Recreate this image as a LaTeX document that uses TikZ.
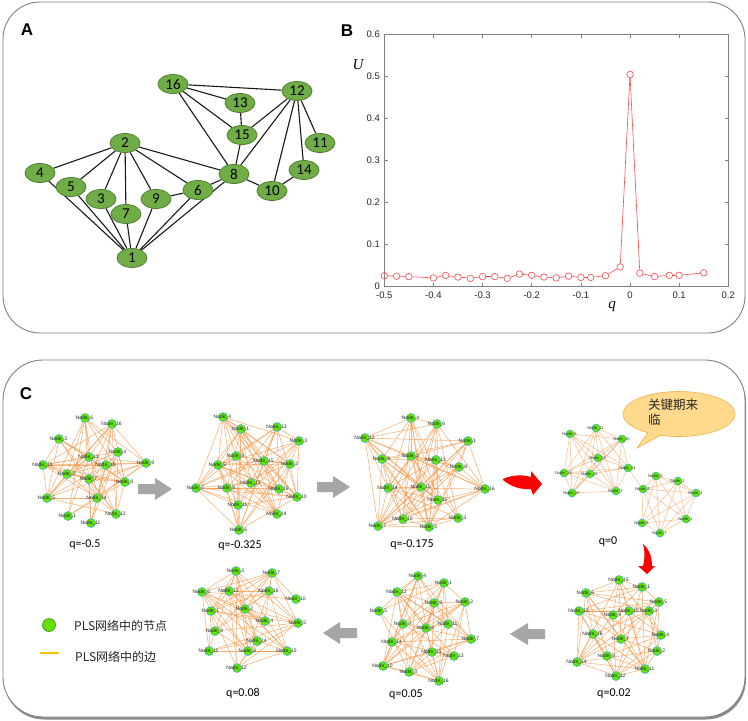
\documentclass[tikz,border=0pt]{standalone}
\usepackage{fontspec}
\setmainfont{Carlito}
\newfontfamily\arialf{Liberation Sans}
\newfontfamily\timesf{Liberation Serif}
\newfontfamily\cjk{Noto Sans CJK SC}
\usetikzlibrary{shapes.geometric,shapes.callouts}
\pgfdeclarelayer{bgzero}
\pgfdeclarelayer{background}
\pgfsetlayers{bgzero,background,main}
\definecolor{panelgray}{RGB}{128,128,128}
\definecolor{agreen}{RGB}{112,173,71}
\definecolor{agreenb}{RGB}{80,126,50}
\definecolor{pgreen}{RGB}{96,232,0}
\definecolor{pcyan}{RGB}{60,170,210}
\definecolor{eorange}{RGB}{247,145,60}
\definecolor{axgray}{RGB}{128,128,128}
\definecolor{ticktext}{RGB}{38,38,38}
\definecolor{plotred}{RGB}{255,70,70}
\definecolor{arrgray}{RGB}{166,166,166}
\definecolor{callfill}{RGB}{255,217,140}
\definecolor{callborder}{RGB}{240,180,70}
\definecolor{legline}{RGB}{255,192,0}
\definecolor{leggreen}{RGB}{102,224,0}
\definecolor{leggreenb}{RGB}{50,140,30}
\tikzset{
  anode/.style={ellipse, draw=agreenb, fill=agreen, line width=0.8pt, minimum width=30pt, minimum height=19pt, inner sep=0pt, font=\fontsize{15}{15}\selectfont},
  aedge/.style={line width=1.1pt, black!90},
  pnode/.style={circle, draw=pcyan, fill=pgreen, line width=0.5pt, minimum size=9pt, inner sep=0pt},
  plab/.style={font=\arialf\fontsize{5}{5}\selectfont, inner sep=0pt, text=black!85},
  pedge/.style={draw=eorange, line width=0.55pt, opacity=0.7},
  mk/.style={circle, draw=plotred, line width=0.6pt, minimum size=6.6pt, inner sep=0pt},
  plotline/.style={draw=plotred, line width=0.6pt},
  axis/.style={draw=axgray, line width=0.6pt},
  ticklab/.style={font=\arialf\fontsize{9.5}{10}\selectfont, text=ticktext, inner sep=1pt},
  panlab/.style={font=\arialf\bfseries\fontsize{17}{17}\selectfont, inner sep=0pt},
  qlab/.style={font=\fontsize{12}{12}\selectfont, inner sep=0pt},
  grayarrow/.style={fill=arrgray},
  redarrow/.style={fill=red},
}
% #1 network id, #2 list id/x/y, #3 seed, #4 threshold (of 97)
\newcommand\drawnet[4]{%
  \foreach \id/\x/\y in {#2} {\node[pnode] (n#1-\id) at (\x,\y) {};}
  \foreach \id/\x/\y in {#2} {\node[plab] (l#1-\id) at (\x-0.5,\y) {Node\_\id};}
  \begin{pgfonlayer}{background}
  \foreach \a/\xa/\ya [count=\i] in {#2} {
    \foreach \b/\xb/\yb [count=\j] in {#2} {
      \ifnum\j>\i
        \pgfmathtruncatemacro\r{mod(\i*37+\j*53+\i*\j*17+\i*\i*\j+#3,97)}
        \ifnum\r<#4 \draw[pedge] (n#1-\a) -- (n#1-\b);\fi
      \fi
    }
  }
  \end{pgfonlayer}
}
\begin{document}
\begin{tikzpicture}[x=1pt,y=-1pt]
\useasboundingbox (0,0) rectangle (748,721);
% panels
\begin{pgfonlayer}{bgzero}
\draw[panelgray, line width=0.9pt, rounded corners=37pt] (3,2) rectangle (745,333);
\fill[black!45, rounded corners=40pt] (4,362.5) rectangle (746,719.5);
\draw[panelgray, fill=white, line width=0.9pt, rounded corners=40pt] (3,360) rectangle (745,717);
\end{pgfonlayer}
\node[panlab] (labA) at (27,30) {A};
\node[panlab] (labB) at (347,31) {B};
\node[panlab] (labC) at (26,394) {C};
% ---------- Panel A ----------
\foreach \n/\x/\y in {16/173/84, 13/240/103, 12/297/91, 15/242/135, 11/320/143, 2/125/143, 4/40/173, 5/71/187, 3/101/199, 7/126/214, 9/156/199, 6/198/190, 8/234/174, 10/272/191, 14/304/170, 1/132/258}
  \node[anode] (a\n) at (\x,\y) {\n};
\begin{pgfonlayer}{background}
\foreach \u/\v in {16/12,16/13,16/15,16/8,13/15,15/12,15/8,12/8,12/10,12/14,12/11,14/10,8/10,2/4,2/5,2/3,2/7,2/9,2/6,2/8,4/1,5/1,3/1,7/1,9/1,9/6,6/8,6/1,8/1}
  \draw[aedge] (a\u) -- (a\v);
\end{pgfonlayer}
% ---------- Panel B ----------
\draw[axis] (384.3,34) rectangle (728.3,286.7);
\foreach \q [count=\k] in {-0.5,-0.4,-0.3,-0.2,-0.1,0,0.1,0.2} {
  \draw[axis] ({630+\q*491.43},286.7) -- ++(0,-3.5);
  \draw[axis] ({630+\q*491.43},34) -- ++(0,3.5);
  \node[ticklab, anchor=north] (xt\k) at ({630+\q*491.43},290.5) {\q};
}
\foreach \u [count=\k] in {0,0.1,0.2,0.3,0.4,0.5,0.6} {
  \draw[axis] (384.3,{286.7-\u*421.17}) -- ++(3.5,0);
  \draw[axis] (728.3,{286.7-\u*421.17}) -- ++(-3.5,0);
  \node[ticklab, anchor=east] (yt\k) at (381,{286.7-\u*421.17}) {\u};
}
\node[font=\timesf\itshape\fontsize{15}{15}\selectfont, inner sep=0pt] (ylab) at (358,65) {U};
\node[font=\timesf\itshape\fontsize{15}{15}\selectfont, inner sep=0pt] (xlab) at (612,307) {q};
\foreach \q/\u [count=\k] in {-0.5/0.026,-0.475/0.025,-0.45/0.024,-0.4/0.021,-0.375/0.027,-0.35/0.023,-0.325/0.020,-0.3/0.024,-0.275/0.024,-0.25/0.020,-0.225/0.030,-0.2/0.027,-0.175/0.023,-0.15/0.021,-0.125/0.025,-0.1/0.022,-0.08/0.022,-0.05/0.026,-0.02/0.047,0/0.504,0.02/0.032,0.05/0.024,0.08/0.027,0.1/0.027,0.15/0.033}
  \node[mk] (m\k) at ({630+\q*491.43},{286.7-\u*421.17}) {};
\foreach \k in {2,...,25} {
  \pgfmathtruncatemacro\pk{\k-1}
  \draw[plotline] (m\pk) -- (m\k);
}
% ---------- Panel C ----------
\drawnet{1}{6/85/418, 16/112/424, 3/59/439, 4/118/452, 13/89/457, 15/43/465, 10/106/465, 9/146/463, 2/67/474, 7/89/479, 8/125/482, 5/47/498, 14/97/498, 12/116/514, 1/68/516, 11/91/523}{11}{56}
\drawnet{2}{4/223/417, 1/241/429, 13/277/427, 3/299/441, 8/236/456, 5/218/465, 15/264/461, 2/290/464, 7/196/488, 9/227/488, 12/251/483, 16/279/489, 10/297/497, 11/238/505, 14/277/514, 6/239/530}{23}{62}
\drawnet{3}{4/411/418, 6/437/424, 12/365/438, 1/468/441, 9/382/459, 2/411/456, 13/436/460, 8/459/467, 14/388/488, 11/421/487, 16/485/489, 15/438/500, 10/403/519, 3/458/518, 7/378/526, 5/429/527}{41}{62}
\begin{scope}[pnode/.append style={minimum size=8pt}, plab/.append style={font=\arialf\fontsize{4}{4}\selectfont}, pedge/.append style={opacity=0.55}]
\drawnet{4}{8/570/434, 11/596/428, 15/622/439, 12/598/458, 13/564/473, 16/590/474, 14/628/468, 10/572/493, 3/616/491}{5}{86}
\drawnet{4}{5/656/476, 1/678/481, 9/643/489, 4/696/493, 6/642/523, 2/686/519, 7/660/533}{17}{97}
\begin{pgfonlayer}{background}
\draw[pedge] (n4-14) -- (n4-9);
\end{pgfonlayer}
\end{scope}
\drawnet{5}{15/619/580, 1/642/587, 6/586/593, 5/659/602, 13/579/611, 9/613/615, 10/629/611, 3/649/611, 16/593/634, 7/621/639, 4/661/635, 2/657/651, 8/607/656, 14/577/662, 11/645/669, 12/616/676}{63}{50}
\drawnet{6}{4/418/576, 1/444/583, 12/397/592, 9/434/603, 2/465/602, 5/379/611, 8/403/624, 6/426/628, 11/448/624, 7/471/639, 14/392/642, 15/432/652, 13/454/656, 10/383/666, 3/409/672, 16/439/681}{77}{62}
\drawnet{7}{3/236/571, 7/272/573, 6/202/592, 13/229/591, 16/269/591, 10/296/599, 1/211/611, 2/245/609, 4/265/621, 5/298/623, 9/215/631, 14/257/641, 11/209/651, 8/248/651, 15/287/651, 12/237/668}{89}{64}
% q labels
\node[qlab] (q1) at (85,545) {q=-0.5};
\node[qlab] (q2) at (240,546) {q=-0.325};
\node[qlab] (q3) at (412,545) {q=-0.175};
\node[qlab] (q4) at (608,542) {q=0};
\node[qlab] (q5) at (614,694) {q=0.02};
\node[qlab] (q6) at (406,695) {q=0.05};
\node[qlab] (q7) at (243,693) {q=0.08};
% gray arrows
\fill[grayarrow] (138,484) -- (155,484) -- (155,478) -- (172,489) -- (155,500) -- (155,494) -- (138,494) -- cycle;
\fill[grayarrow] (317,482) -- (333,482) -- (333,476) -- (350,487) -- (333,498) -- (333,492) -- (317,492) -- cycle;
\fill[grayarrow] (545,629) -- (528,629) -- (528,623) -- (510,634) -- (528,645) -- (528,639) -- (545,639) -- cycle;
\fill[grayarrow] (357,628) -- (340,628) -- (340,622) -- (323,633) -- (340,644) -- (340,638) -- (357,638) -- cycle;
% red curved arrows
\fill[redarrow] (503,479) .. controls (514,474) and (524,475) .. (531,477) -- (531,471) -- (542,484) -- (533,495) -- (531,489) .. controls (520,490) and (510,486) .. (503,480) -- cycle;
\fill[redarrow] (643,544) .. controls (650,550) and (652,558) .. (652,566) -- (655,566) -- (647,574) -- (638,566) -- (643,566) .. controls (645,558) and (645,551) .. (643,544) -- cycle;
% callout
\node[ellipse callout, draw=callborder, fill=callfill, line width=0.6pt, minimum width=112pt, minimum height=45pt, callout absolute pointer={(637,448)}] (callout) at (679,414) {};
\node[font=\cjk\fontsize{12.5}{15}\selectfont, align=left, anchor=north west, inner sep=0pt, text=black!85] (calltext) at (648,399) {关键期来\\临};
% legend
\node[circle, draw=leggreenb, fill=leggreen, line width=0.6pt, minimum size=13pt, inner sep=0pt] (legnode) at (49,625) {};
\coordinate (legl1) at (40,653);
\coordinate (legl2) at (59,653);
\draw[legline, line width=2pt] (legl1) -- (legl2);
\node[font=\cjk\fontsize{12}{12}\selectfont, anchor=west, inner sep=0pt, text=black!85] (legt1) at (74,626) {PLS网络中的节点};
\node[font=\cjk\fontsize{12}{12}\selectfont, anchor=west, inner sep=0pt, text=black!85] (legt2) at (75,657) {PLS网络中的边};
\end{tikzpicture}
\end{document}
